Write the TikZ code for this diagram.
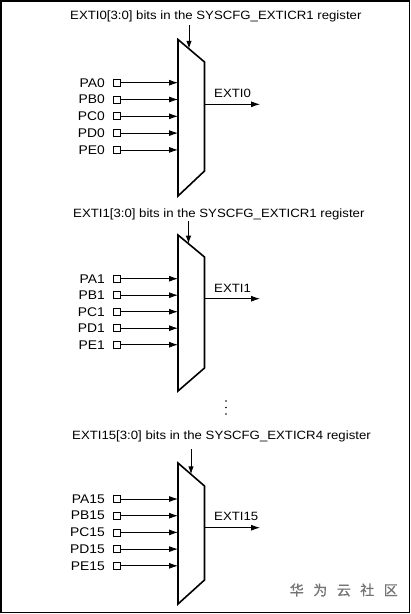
\documentclass[tikz,border=0pt]{standalone}
\usepackage{fontspec}
\setmainfont{Liberation Sans}[FakeStretch=1.1]
\newfontfamily\cjk{Noto Sans CJK SC}[FakeBold=0.8]
\usetikzlibrary{arrows.meta}
\begin{document}
\begin{tikzpicture}[x=1pt,y=-1pt,
  lbl/.style={font=\fontsize{12}{14}\selectfont, inner sep=0pt},
  pinlbl/.style={font=\fontsize{12.6}{14}\selectfont, inner sep=0pt},
  mux/.style={draw, line width=1.6pt, line join=miter},
  pin/.style={draw, line width=0.7pt, minimum width=7.5pt, minimum height=7pt, inner sep=0pt},
  wire/.style={line width=0.8pt, -{Latex[length=9pt,width=6pt]}},
  ctrl/.style={line width=1pt, -{Latex[length=8pt,width=5.5pt]}},
  frame/.style={draw, line width=1.3pt}
]
\useasboundingbox (0,0) rectangle (411,614);
\draw[frame] (1,1) rectangle (409.5,612.5);
\foreach \k/\tx/\ty/\reg/\cx/\ct/\ce/\mt/\mtr/\mbr/\mb/\ia/\ds/\oy/\ly in {
 0/70/16/1/189/25/48.8/39.5/62/171/196/82.7/16.8/104.3/93,
 1/73/214/1/188.5/221/243.7/235/257/368/391/278.7/16.5/298.7/288,
 15/72/436/4/191/449/474.3/463/486/580/604/499/16.7/527.7/516.7}
{
  \node[lbl, anchor=west] (t\k) at (\tx,\ty) {EXTI\k[3:0] bits in the SYSCFG\_EXTICR\reg{} register};
  \coordinate (ma\k) at (178,\mt);
  \coordinate (mb\k) at (204.5,\mtr);
  \coordinate (mc\k) at (204.5,\mbr);
  \coordinate (md\k) at (178,\mb);
  \draw[mux] (ma\k) -- (mb\k) -- (mc\k) -- (md\k) -- cycle;
  \coordinate (c\k) at (\cx,\ct);
  \coordinate (ce\k) at (\cx,\ce);
  \draw[ctrl] (c\k) -- (ce\k);
  \foreach \p [count=\i from 0] in {A,B,C,D,E} {
    \node[pinlbl, anchor=east] (l\p\k) at (105,{\ia+\i*\ds}) {P\p\k};
    \node[pin] (s\p\k) at (117,{\ia+\i*\ds}) {};
    \coordinate (e\p\k) at (178,{\ia+\i*\ds});
    \draw[wire] (s\p\k) -- (e\p\k);
  }
  \coordinate (o\k) at (204.5,\oy);
  \coordinate (oe\k) at (260,\oy);
  \draw[wire] (o\k) -- (oe\k);
  \node[lbl, anchor=west] (x\k) at (214,\ly) {EXTI\k};
}
\fill (226,401) circle (0.8);
\fill (226,407.5) circle (0.8);
\fill (226,414) circle (0.8);
\node[text=black!55, font=\cjk\fontsize{14}{16}\selectfont, anchor=east, inner sep=0pt] (wm) at (398,590) {\spaceskip=9.5pt 华 为 云 社 区};
\end{tikzpicture}
\end{document}
